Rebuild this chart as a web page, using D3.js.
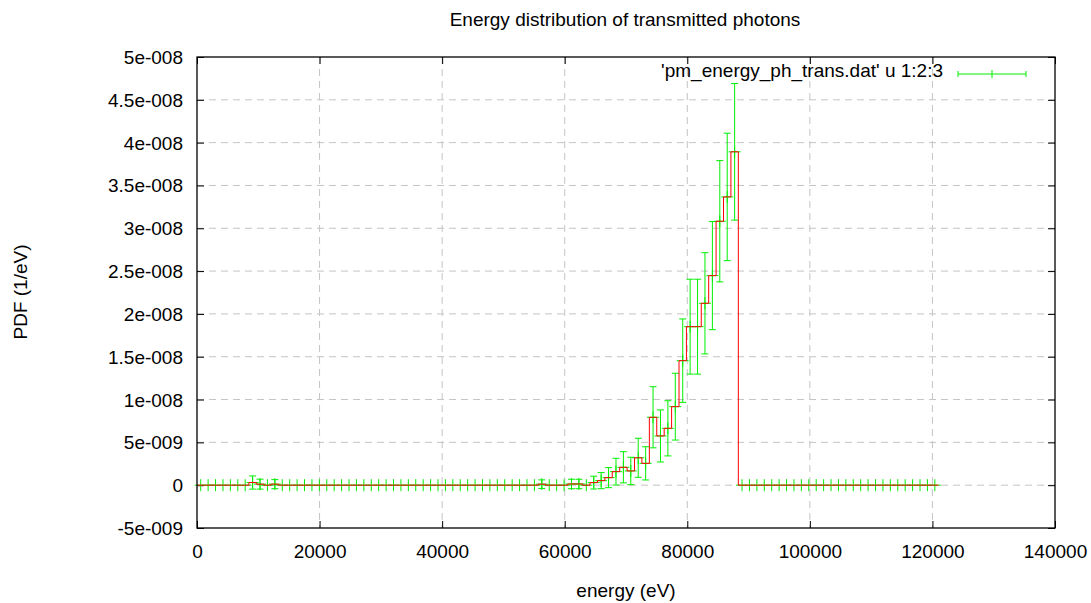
<!DOCTYPE html>
<html>
<head>
<meta charset="utf-8">
<script src="https://cdn.jsdelivr.net/npm/d3@7"></script>
<style>
  body { margin: 0; background: #fff; }
  svg { display: block; font-family: "Liberation Sans", Arial, sans-serif; }
  .grid line { stroke: #c4c4c4; stroke-width: 1; stroke-dasharray: 7,5; }
</style>
</head>
<body>
<div id="chart"></div>
<script>
// energy distribution of transmitted photons (gnuplot style)

// bin width of the histogram (eV) and number of bins
var binWidth = 1210;
var binCount = 100;

// PDF value of each bin (1/eV)
var pdfValues = [
  0, 0, 0, 0, 0, 0, 0, 3.1e-10, 1.2e-10, 0,
  1.2e-10, 0, 0, 0, 0, 0, 0, 0, 0, 0,
  0, 0, 0, 0, 0, 0, 0, 0, 0, 0,
  0, 0, 0, 0, 0, 0, 0, 0, 0, 0,
  0, 0, 0, 0, 0, 0, 1.2e-10, 0, 0, 0,
  1.4e-10, 1.4e-10, 0, 3.0e-10, 5.3e-10, 8.8e-10, 1.58e-9, 2.09e-9, 1.66e-9, 3.2e-9,
  2.55e-9, 7.93e-9, 5.75e-9, 6.64e-9, 9.17e-9, 1.454e-8, 1.851e-8, 1.851e-8, 2.124e-8, 2.447e-8,
  3.082e-8, 3.366e-8, 3.893e-8, 0, 0, 0, 0, 0, 0, 0,
  0, 0, 0, 0, 0, 0, 0, 0, 0, 0,
  0, 0, 0, 0, 0, 0, 0, 0, 0, 0
];

// error of each bin (1/eV)
var pdfErrors = [
  0, 0, 0, 0, 0, 0, 0, 7.7e-10, 5.8e-10, 0,
  5.3e-10, 0, 0, 0, 0, 0, 0, 0, 0, 0,
  0, 0, 0, 0, 0, 0, 0, 0, 0, 0,
  0, 0, 0, 0, 0, 0, 0, 0, 0, 0,
  0, 0, 0, 0, 0, 0, 5.0e-10, 0, 0, 0,
  5.5e-10, 5.5e-10, 0, 7.5e-10, 9.4e-10, 1.17e-9, 1.56e-9, 1.82e-9, 1.6e-9, 2.28e-9,
  1.94e-9, 3.57e-9, 3.04e-9, 3.22e-9, 3.9e-9, 4.87e-9, 5.54e-9, 5.54e-9, 5.91e-9, 6.31e-9,
  7.08e-9, 7.44e-9, 7.98e-9, 0, 0, 0, 0, 0, 0, 0,
  0, 0, 0, 0, 0, 0, 0, 0, 0, 0,
  0, 0, 0, 0, 0, 0, 0, 0, 0, 0
];

// tick values
var xTicks = [0, 20000, 40000, 60000, 80000, 100000, 120000, 140000];
var yTicks = [-5e-9, 0, 5e-9, 1e-8, 1.5e-8, 2e-8, 2.5e-8, 3e-8, 3.5e-8, 4e-8, 4.5e-8, 5e-8];

var titleText = 'Energy distribution of transmitted photons';
var xLabelText = 'energy (eV)';
var yLabelText = 'PDF (1/eV)';
var legendText = "'pm_energy_ph_trans.dat' u 1:2:3";

var width = 1091;
var height = 603;

var margin = {
  top: 57,
  right: 36,
  bottom: 75,
  left: 197
};

var w = width - margin.left - margin.right;
var h = height - margin.top - margin.bottom;

var green = '#00f000';
var red = '#ff0000';
var fontSize = 19;

// bin centres
var points = d3.range(binCount).map(function(i) {
  return {
    x: (i + 0.5) * binWidth,
    y: pdfValues[i],
    e: pdfErrors[i]
  };
});

var xScale = d3.scaleLinear().domain([0, 140000]).range([0, w]);
var yScale = d3.scaleLinear().domain([-5e-9, 5e-8]).range([h, 0]);

// gnuplot style "5e-008"
function gnuFormat(d) {
  if (d === 0) {
    return '0';
  }
  var s = d.toExponential();
  var m = s.split('e');
  var exp = parseInt(m[1], 10);
  var sign = exp < 0 ? '-' : '+';
  var digits = ('000' + Math.abs(exp)).slice(-3);
  return m[0] + 'e' + sign + digits;
}

var svg = d3.select('#chart').append('svg')
  .attr('width', width)
  .attr('height', height);

var base = svg.append('g')
  .attr('transform', 'translate(' + margin.left + ',' + margin.top + ')');

// grid
var grid = base.append('g').classed('grid', true);
grid.selectAll('.gx')
  .data(xTicks.filter(function(d) { return d > 0 && d < 140000; }))
  .enter()
  .append('line')
  .attr('x1', function(d) { return xScale(d); })
  .attr('x2', function(d) { return xScale(d); })
  .attr('y1', 0)
  .attr('y2', h);
grid.selectAll('.gy')
  .data(yTicks.filter(function(d) { return d > -5e-9 && d < 5e-8; }))
  .enter()
  .append('line')
  .attr('x1', 0)
  .attr('x2', w)
  .attr('y1', function(d) { return yScale(d); })
  .attr('y2', function(d) { return yScale(d); });

// axes (ticks inward on every side)
var xAxisBottom = d3.axisBottom(xScale).tickValues(xTicks).tickSize(-7).tickFormat(function(d) { return d; });
var xAxisTop = d3.axisTop(xScale).tickValues(xTicks).tickSize(-7).tickFormat('');
var yAxisLeft = d3.axisLeft(yScale).tickValues(yTicks).tickSize(-7).tickFormat(gnuFormat);
var yAxisRight = d3.axisRight(yScale).tickValues(yTicks).tickSize(-7).tickFormat('');

function styleAxis(g) {
  g.select('.domain').remove();
  g.selectAll('.tick line').attr('stroke', '#000').attr('stroke-width', 1);
  g.selectAll('text')
    .attr('font-family', '"Liberation Sans", Arial, sans-serif')
    .attr('font-size', fontSize)
    .attr('fill', '#000');
}

base.append('g')
  .attr('transform', 'translate(0,' + h + ')')
  .call(xAxisBottom)
  .call(styleAxis)
  .selectAll('text')
  .attr('y', 17)
  .attr('dy', '0.71em');

base.append('g').call(xAxisTop).call(styleAxis);

base.append('g')
  .call(yAxisLeft)
  .call(styleAxis)
  .selectAll('text')
  .attr('x', -14)
  .attr('dy', '0.34em');

base.append('g')
  .attr('transform', 'translate(' + w + ',0)')
  .call(yAxisRight)
  .call(styleAxis);

// error bars and point markers
var errLayer = base.append('g')
  .attr('stroke', green)
  .attr('stroke-width', 1)
  .attr('fill', 'none');

var capHalf = 3.5;
var plusHalf = 6;

var bars = points.filter(function(d) { return d.e > 0; });

errLayer.selectAll('.bar')
  .data(bars)
  .enter()
  .append('path')
  .attr('d', function(d) {
    var x = xScale(d.x);
    var y0 = yScale(d.y - d.e);
    var y1 = yScale(d.y + d.e);
    return 'M' + x + ',' + y0 + 'V' + y1 +
      'M' + (x - capHalf) + ',' + y1 + 'H' + (x + capHalf) +
      'M' + (x - capHalf) + ',' + y0 + 'H' + (x + capHalf);
  });

errLayer.selectAll('.plus')
  .data(points)
  .enter()
  .append('path')
  .attr('d', function(d) {
    var x = xScale(d.x);
    var y = yScale(d.y);
    return 'M' + (x - plusHalf) + ',' + y + 'H' + (x + plusHalf) +
      'M' + x + ',' + (y - plusHalf) + 'V' + (y + plusHalf);
  });

// histogram steps
var stepPoints = [];
points.forEach(function(d) {
  stepPoints.push([d.x - binWidth / 2, d.y]);
  stepPoints.push([d.x + binWidth / 2, d.y]);
});

var stepLine = d3.line()
  .x(function(d) { return xScale(d[0]); })
  .y(function(d) { return yScale(d[1]); });

base.append('path')
  .datum(stepPoints)
  .attr('d', stepLine)
  .attr('fill', 'none')
  .attr('stroke', red)
  .attr('stroke-width', 1);

// border
base.append('rect')
  .attr('x', 0)
  .attr('y', 0)
  .attr('width', w)
  .attr('height', h)
  .attr('fill', 'none')
  .attr('stroke', '#000')
  .attr('stroke-width', 1.3);

// key
var key = svg.append('g');
key.append('text')
  .attr('x', 943)
  .attr('y', 77)
  .attr('text-anchor', 'end')
  .attr('font-size', fontSize)
  .text(legendText);
key.append('path')
  .attr('d', 'M958,74H1026M958,71V77M1026,71V77M992,70V78')
  .attr('stroke', green)
  .attr('stroke-width', 1)
  .attr('fill', 'none');

// titles
svg.append('text')
  .attr('x', 625)
  .attr('y', 26)
  .attr('text-anchor', 'middle')
  .attr('font-size', fontSize)
  .text(titleText);

svg.append('text')
  .attr('x', 626)
  .attr('y', 597)
  .attr('text-anchor', 'middle')
  .attr('font-size', fontSize)
  .text(xLabelText);

svg.append('text')
  .attr('transform', 'translate(27,292) rotate(-90)')
  .attr('text-anchor', 'middle')
  .attr('font-size', fontSize)
  .text(yLabelText);
</script>
</body>
</html>
